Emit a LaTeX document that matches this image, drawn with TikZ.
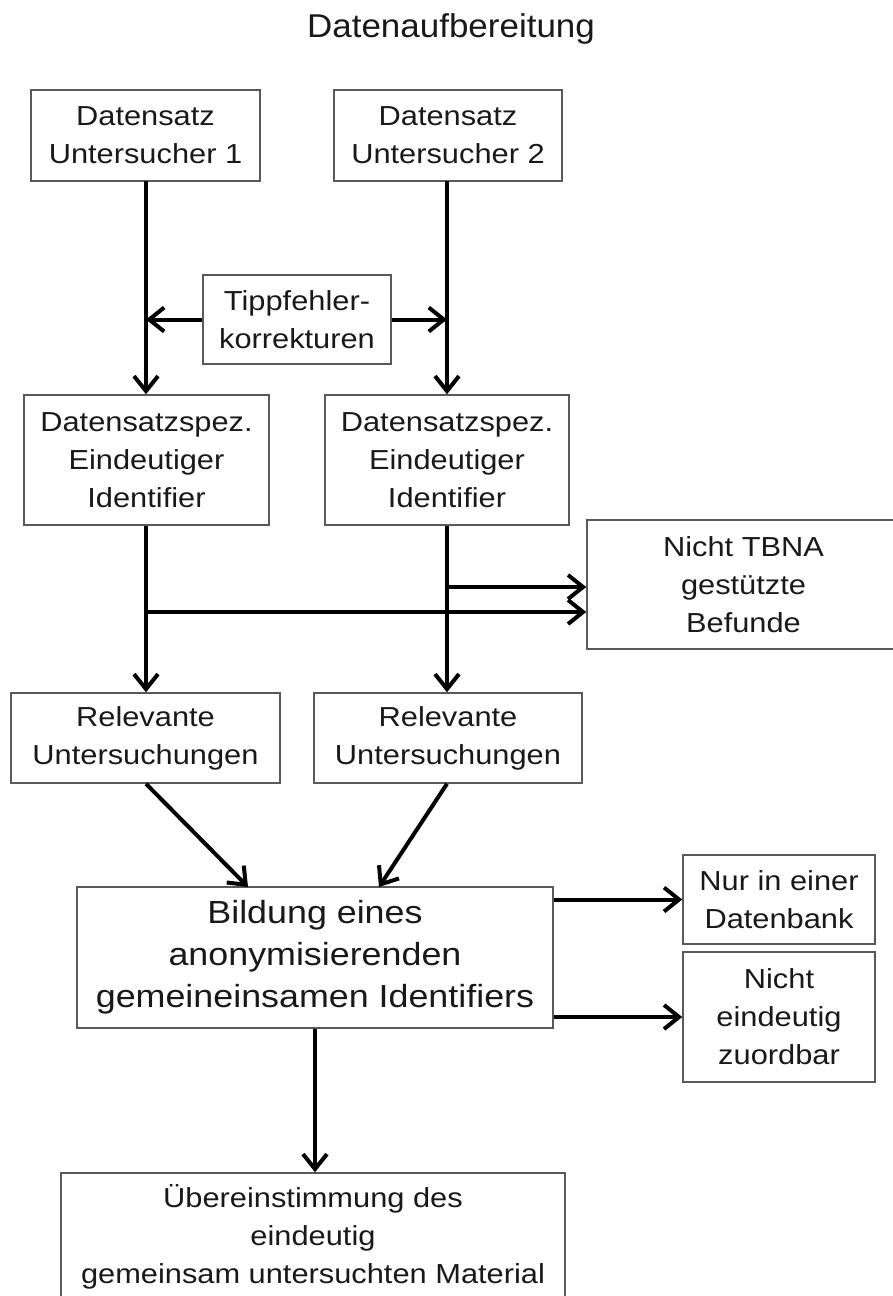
\documentclass[tikz,border=0pt]{standalone}
\usepackage{fontspec}
\setmainfont[FakeStretch=1.12]{Liberation Sans}
\newfontfamily\titlefont[FakeStretch=1.06]{Liberation Sans}
\usetikzlibrary{arrows.meta}
\begin{document}
\begin{tikzpicture}[x=1pt,y=-1pt,
  box/.style={draw=black!65, line width=1.5pt, inner sep=0pt, align=center,
    text=black!90, font=\fontsize{27.5}{38}\selectfont},
  bigbox/.style={box, font=\fontsize{32}{42}\selectfont},
  arr/.style={draw=black, line width=4pt,
    -{Straight Barb[length=15pt,width=24pt,line width=4pt]}}]
\useasboundingbox (0,0) rectangle (893,1296);
\node[text=black!90, font=\titlefont\fontsize{33}{38}\selectfont, anchor=base] (title) at (451,37) {Datenaufbereitung};
\node[box, minimum width=229pt, minimum height=91pt] (d1) at (145.5,135.5) {Datensatz\\Untersucher 1};
\node[box, minimum width=228pt, minimum height=91pt] (d2) at (448,135.5) {Datensatz\\Untersucher 2};
\node[box, minimum width=188pt, minimum height=89pt] (tf) at (297,319.5) {Tippfehler-\\korrekturen};
\node[box, minimum width=245pt, minimum height=130pt] (s1) at (146.5,460) {Datensatzspez.\\Eindeutiger\\Identifier};
\node[box, minimum width=244pt, minimum height=130pt] (s2) at (447,460) {Datensatzspez.\\Eindeutiger\\Identifier};
\node[box, minimum width=313pt, minimum height=129pt] (nt) at (743.5,584.5) {Nicht TBNA\\gestützte\\Befunde};
\node[box, minimum width=269pt, minimum height=90pt] (r1) at (145.5,738) {Relevante\\Untersuchungen};
\node[box, minimum width=268pt, minimum height=90pt] (r2) at (448,738) {Relevante\\Untersuchungen};
\node[bigbox, minimum width=476pt, minimum height=141pt] (bi) at (315,957.5) {Bildung eines\\anonymisierenden\\gemeineinsamen Identifiers};
\node[box, minimum width=192pt, minimum height=89pt] (nu) at (779,899.5) {Nur in einer\\Datenbank};
\node[box, minimum width=192pt, minimum height=130pt] (ne) at (779,1017) {Nicht\\eindeutig\\zuordbar};
\node[box, minimum width=504pt, minimum height=127pt] (ue) at (313,1236.5) {Übereinstimmung des\\eindeutig\\gemeinsam untersuchten Material};
\coordinate (a1) at (146,181);
\coordinate (a2) at (447,181);
\coordinate (j1) at (146,612);
\coordinate (j2) at (447,587);
\coordinate (b1) at (248,887);
\coordinate (b2) at (379,887);
\draw[arr] (a1) -- (a1 |- s1.north);
\draw[arr] (a2) -- (a2 |- s2.north);
\draw[arr] (tf.west) -- (tf.west -| a1);
\draw[arr] (tf.east) -- (tf.east -| a2);
\draw[arr] (s1.south -| j1) -- (r1.north -| j1);
\draw[arr] (s2.south -| j2) -- (r2.north -| j2);
\draw[arr] (j1) -- (j1 -| nt.west);
\draw[arr] (j2) -- (j2 -| nt.west);
\draw[arr] (r1.south -| j1) -- (b1);
\draw[arr] (r2.south -| j2) -- (b2);
\draw[arr] (bi.east |- nu.west) -- (nu.west);
\draw[arr] (bi.east |- ne.west) -- (ne.west);
\draw[arr] (bi.south) -- (bi.south |- ue.north);
\end{tikzpicture}
\end{document}
